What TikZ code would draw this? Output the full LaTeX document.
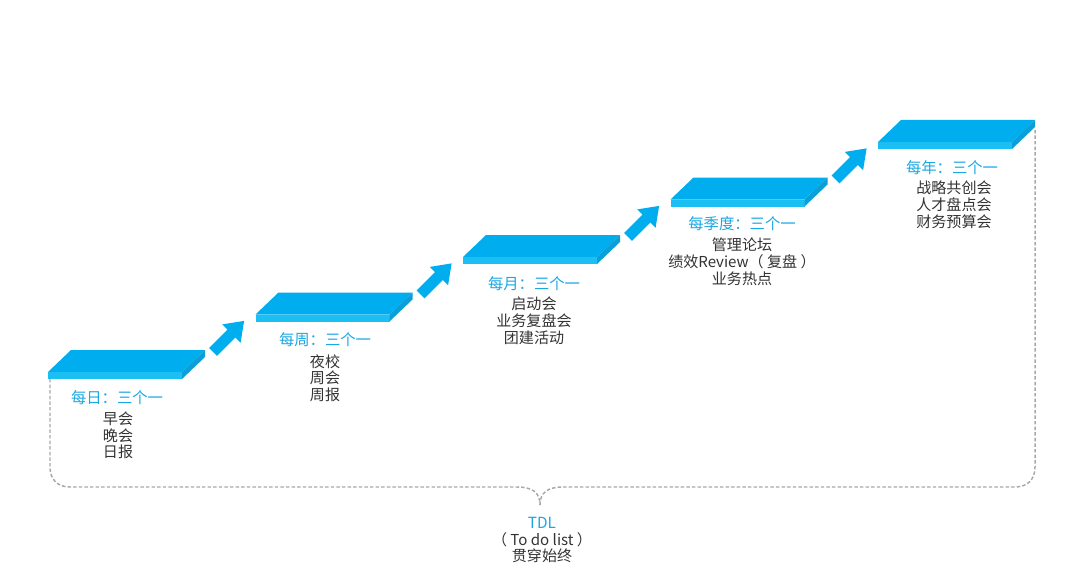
\documentclass[tikz,border=0pt]{standalone}
\usepackage{fontspec}
\setmainfont{Noto Sans CJK SC}
\usetikzlibrary{calc}
\definecolor{topblue}{HTML}{00AEEF}
\definecolor{frontblue}{HTML}{1CBFF2}
\definecolor{sideblue}{HTML}{0A9FD8}
\definecolor{labelblue}{HTML}{1AA7E3}
\definecolor{itemgray}{HTML}{333333}
\definecolor{dashgray}{HTML}{A8A8A8}
\tikzset{
  lbl/.style={text=labelblue, font=\fontsize{11.5}{13}\selectfont, inner sep=0pt},
  items/.style={text=itemgray, font=\fontsize{11.3}{12.4}\selectfont, align=center, inner sep=0pt, anchor=north},
  dashline/.style={draw=dashgray, line width=1.1pt, dash pattern=on 2.6pt off 1.6pt},
}
\begin{document}
\begin{tikzpicture}[x=0.75pt,y=-0.75pt]
\useasboundingbox (0,0) rectangle (1080,588);
% slabs
\foreach \i/\X/\Y in {1/48/372, 2/255.5/314.5, 3/463/257, 4/670.5/199.5, 5/878/142}{
  \fill[topblue] (\X,\Y) -- (\X+134,\Y) -- (\X+157,\Y-22) -- (\X+23,\Y-22) -- cycle;
  \fill[frontblue] (\X,\Y) rectangle (\X+134,\Y+7);
  \fill[sideblue] (\X+134,\Y) -- (\X+157,\Y-22) -- (\X+157,\Y-15) -- (\X+134,\Y+7) -- cycle;
  \coordinate (slab\i) at (\X,\Y+7);
}
% arrows
\foreach \i/\X/\Y in {1/213/352, 2/420.5/294.5, 3/628/237, 4/835.5/179.5}{
  \begin{scope}[shift={(\X,\Y)}, rotate=45]
    \fill[topblue] (0,-5.5) -- (26,-5.5) -- (26,-13) -- (44,0) -- (26,13) -- (26,5.5) -- (0,5.5) -- cycle;
  \end{scope}
}
% labels
\node[lbl] (l1) at (117,398) {每日：三个一};
\node[items] (i1) at (118,412) {早会\\晚会\\日报};
\node[lbl] (l2) at (325,340) {每周：三个一};
\node[items] (i2) at (325,354) {夜校\\周会\\周报};
\node[lbl] (l3) at (534,284) {每月：三个一};
\node[items] (i3) at (534,297) {启动会\\业务复盘会\\团建活动};
\node[lbl] (l4) at (742,224) {每季度：三个一};
\node[items] (i4) at (742,238) {管理论坛\\绩效Review（ 复盘 ）\\业务热点};
\node[lbl] (l5) at (952,168) {每年：三个一};
\node[items] (i5) at (954,181) {战略共创会\\人才盘点会\\财务预算会};
% bracket
\coordinate (brtip) at (540,505);
\draw[dashline] (50,379) -- (50,467) .. controls (50,479) and (57,487) .. (70,487) -- (517,487) .. controls (533,487) and (540,493) .. (brtip);
\draw[dashline] (brtip) .. controls (540,493) and (547,487) .. (563,487) -- (1015,487) .. controls (1028,487) and (1035,479) .. (1035,467) -- (1035,128);
\node[lbl] (tdl) at (542,523) {TDL};
\node[items] (tdlt) at (542,532) {（ To do list ）\\贯穿始终};
\end{tikzpicture}
\end{document}
